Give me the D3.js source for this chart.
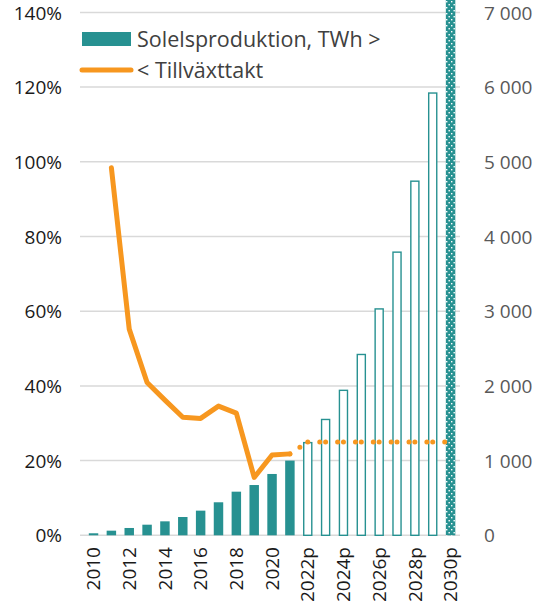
<!DOCTYPE html>
<html>
<head>
<meta charset="utf-8">
<title>Solelsproduktion och tillväxttakt</title>
<script src="https://d3js.org/d3.v7.min.js"></script>
<style>
  body { margin: 0; background: #fff; }
  svg text { font-family: "Open Sans", "Noto Sans", sans-serif; }
  .ax text { font-size: 19px; }
  .left text, .bottom text { fill: #1a1a1a; }
  .right text { fill: #595959; }
  .legend text { font-size: 21.5px; fill: #404040; }
</style>
</head>
<body>
<script>
// categories (p = prognos)
var years = ["2010","2011","2012","2013","2014","2015","2016","2017","2018","2019","2020",
             "2021","2022p","2023p","2024p","2025p","2026p","2027p","2028p","2029p","2030p"];
// solar power production, TWh (right axis)
var production = [27, 62, 98, 142, 187, 245, 330, 442, 584, 673, 821,
                  1000, 1250, 1560, 1950, 2430, 3040, 3800, 4750, 5930, 7400];
// growth rate, % (left axis)
var growth = [null, 98.4, 55.2, 40.9, 36.2, 31.6, 31.3, 34.6, 32.7, 15.5, 21.5,
              21.8, 25, 25, 25, 25, 25, 25, 25, 25, 25];
var leftTicks = [0, 20, 40, 60, 80, 100, 120, 140];
var rightTicks = [0, 1000, 2000, 3000, 4000, 5000, 6000, 7000];
var lastActual = "2021";

var teal = "#279191", orange = "#f7971f";
var W = 550, H = 608;

var svg = d3.select("body").append("svg").attr("width", W).attr("height", H);

var x = d3.scaleBand().domain(years).range([84.6, 459.5]);
var yL = d3.scaleLinear().domain([0, 140]).range([535.3, 12.4]);
var yR = d3.scaleLinear().domain([0, 7000]).range([535.3, 12.4]);
var bw = x.bandwidth() * 0.53;
var cx = function(d) { return x(d) + x.bandwidth() / 2; };
var lastIdx = years.indexOf(lastActual);

// dotted fill for the last bar
var pat = svg.append("defs").append("pattern").attr("id", "dots")
    .attr("patternUnits", "userSpaceOnUse").attr("width", 5).attr("height", 6);
pat.append("rect").attr("width", 5).attr("height", 6).attr("fill", teal);
pat.append("rect").attr("x", 1).attr("y", 1).attr("width", 1.4).attr("height", 1.4).attr("fill", "#fff");
pat.append("rect").attr("x", 3.5).attr("y", 4).attr("width", 1.4).attr("height", 1.4).attr("fill", "#fff");

// gridlines
svg.append("g").selectAll("line").data(leftTicks).enter().append("line")
    .attr("x1", 80).attr("x2", 460)
    .attr("y1", function(d) { return yL(d); }).attr("y2", function(d) { return yL(d); })
    .attr("stroke", "#d9d9d9").attr("stroke-width", 1.5);

// bars
var data = years.map(function(y, i) { return {year: y, v: production[i], i: i}; });
svg.append("g").selectAll("rect").data(data).enter().append("rect")
    .each(function(d) {
      var r = d3.select(this);
      var x0 = cx(d.year) - bw / 2;
      if (d.i <= lastIdx) {
        r.attr("x", x0).attr("width", bw).attr("y", yR(d.v)).attr("height", yR(0) - yR(d.v))
         .attr("fill", teal);
      } else if (d.i === years.length - 1) {
        r.attr("x", x0).attr("width", bw).attr("y", yR(d.v)).attr("height", yR(0) - yR(d.v))
         .attr("fill", "url(#dots)");
      } else {
        r.attr("x", x0 + 0.7).attr("width", bw - 1.4).attr("y", yR(d.v) + 0.7)
         .attr("height", yR(0) - yR(d.v) - 0.7)
         .attr("fill", "#fff").attr("stroke", teal).attr("stroke-width", 1.4);
      }
    });

// growth line, actual years
var pts = years.map(function(y, i) { return [cx(y), growth[i] == null ? null : yL(growth[i])]; });
var line = d3.line().defined(function(d) { return d[1] != null; });
svg.append("path").datum(pts.slice(0, lastIdx + 1))
    .attr("d", line).attr("fill", "none").attr("stroke", orange)
    .attr("stroke-width", 5).attr("stroke-linejoin", "round").attr("stroke-linecap", "round");

// forecast part, drawn segment by segment as dots
for (var i = lastIdx; i < years.length - 1; i++) {
  svg.append("path").datum([pts[i], pts[i + 1]])
    .attr("d", line).attr("fill", "none").attr("stroke", orange)
    .attr("stroke-width", 5).attr("stroke-linecap", "round")
    .attr("stroke-dasharray", "0,12,0,100");
}

// axes
var fmt = d3.formatLocale({decimal: ",", thousands: "\u00a0", grouping: [3], currency: ["", ""]}).format(",d");

svg.append("g").attr("class", "ax left").attr("transform", "translate(62,0)")
  .call(d3.axisLeft(yL).tickValues(leftTicks).tickSize(0).tickPadding(0)
        .tickFormat(function(d) { return d + "%"; }))
  .call(function(g) { g.select(".domain").remove(); })
  .selectAll("text").attr("dy", "0.35em");

svg.append("g").attr("class", "ax right").attr("transform", "translate(484,0)")
  .call(d3.axisRight(yR).tickValues(rightTicks).tickSize(0).tickPadding(0).tickFormat(fmt))
  .call(function(g) { g.select(".domain").remove(); })
  .selectAll("text").attr("dy", "0.35em");

var bx = svg.append("g").attr("class", "ax bottom").attr("transform", "translate(0,547)")
  .call(d3.axisBottom(x).tickValues(years.filter(function(d, i) { return i % 2 === 0; }))
        .tickSize(0).tickPadding(0));
bx.select(".domain").remove();
bx.selectAll("text")
  .attr("transform", "rotate(-90)")
  .attr("text-anchor", "end").attr("x", 0).attr("y", 0).attr("dy", "0.35em").attr("dx", 0);

// legend
var lg = svg.append("g").attr("class", "legend");
lg.append("rect").attr("x", 82).attr("y", 32).attr("width", 49).attr("height", 14).attr("fill", teal);
lg.append("text").attr("x", 137).attr("y", 47).text("Solelsproduktion, TWh >");
lg.append("line").attr("x1", 82).attr("x2", 131).attr("y1", 70).attr("y2", 70)
  .attr("stroke", orange).attr("stroke-width", 5).attr("stroke-linecap", "round");
lg.append("text").attr("x", 137).attr("y", 78).text("< Tillväxttakt");
</script>
</body>
</html>
